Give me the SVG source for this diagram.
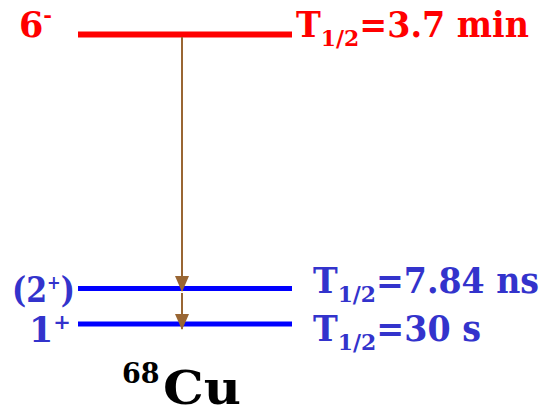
<svg xmlns="http://www.w3.org/2000/svg" width="542" height="406" viewBox="0 0 542 406">
<defs>
<style>
text{font-family:"DejaVu Serif","Liberation Serif",serif;font-weight:bold}
.red{fill:#ff0000}
.blue{fill:#3333cc}
.blk{fill:#000000}
.main{font-size:35px}
.sub{font-size:23px}
.sup{font-size:21px}
.lvlR{stroke:#ff0000;stroke-width:6}
.lvlB{stroke:#0000ff;stroke-width:5}
.tr{stroke:#996633;stroke-width:2;fill:none}
</style>
<marker id="ah" markerUnits="userSpaceOnUse" markerWidth="16" markerHeight="18" refX="15" refY="7" orient="auto" viewBox="0 0 16 14">
<path d="M0,0 L16,7 L0,14 Z" fill="#996633"/>
</marker>
</defs>
<rect width="542" height="406" fill="#ffffff"/>
<g id="level-6minus">
<line class="lvlR" x1="78" y1="34.5" x2="292" y2="34.5"/>
<text class="red main" x="19" y="37">6<tspan class="sup" dy="-15">-</tspan></text>
<text class="red main" x="296" y="37" textLength="233" lengthAdjust="spacingAndGlyphs">T<tspan class="sub" dy="9">1/2</tspan><tspan dy="-9">=3.7 min</tspan></text>
</g>
<g id="level-2plus">
<line class="lvlB" x1="78" y1="288.5" x2="292" y2="288.5"/>
<text class="blue main" x="12" y="302" textLength="63" lengthAdjust="spacingAndGlyphs">(2<tspan font-size="19" dy="-13">+</tspan><tspan dy="13">)</tspan></text>
<text class="blue main" x="313" y="293" textLength="226" lengthAdjust="spacingAndGlyphs">T<tspan class="sub" dy="9">1/2</tspan><tspan dy="-9">=7.84 ns</tspan></text>
</g>
<g id="level-1plus">
<line class="lvlB" x1="78" y1="324" x2="292" y2="324"/>
<text class="blue main" x="29" y="342">1<tspan class="sup" dy="-13">+</tspan></text>
<text class="blue main" x="313" y="341" textLength="168" lengthAdjust="spacingAndGlyphs">T<tspan class="sub" dy="9">1/2</tspan><tspan dy="-9">=30 s</tspan></text>
</g>
<g id="nucleus">
<text class="blk" x="122" y="383" font-size="27">68</text>
<text class="blk" x="163" y="404" font-size="46" textLength="78" lengthAdjust="spacingAndGlyphs">Cu</text>
</g>
<g id="connectors">
<line class="tr" x1="182" y1="37" x2="182" y2="291" marker-end="url(#ah)"/>
<line class="tr" x1="182" y1="293" x2="182" y2="329" marker-end="url(#ah)"/>
</g>
</svg>
